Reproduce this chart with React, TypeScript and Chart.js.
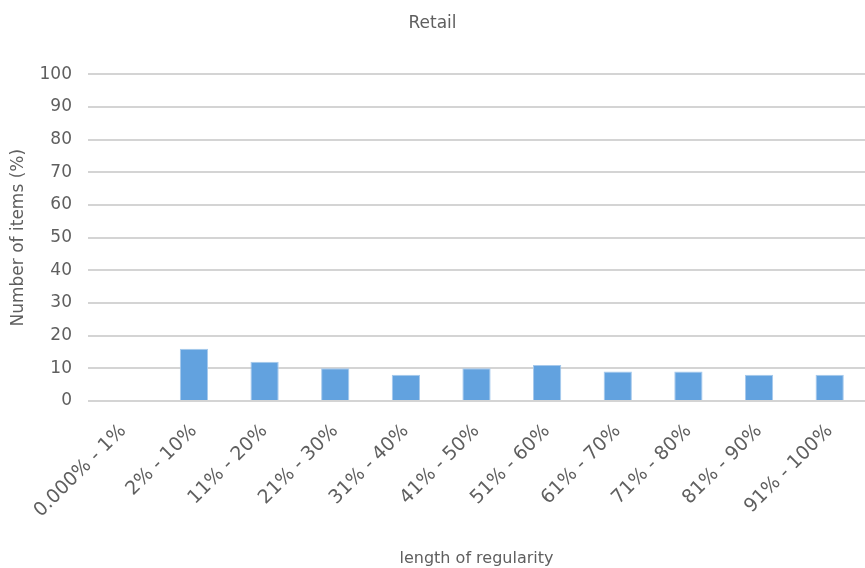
import React, { useEffect, useRef } from "react";
import { Chart, registerables } from "chart.js";

Chart.register(...registerables);

const categories = [
  "0.000% - 1%",
  "2% - 10%",
  "11% - 20%",
  "21% - 30%",
  "31% - 40%",
  "41% - 50%",
  "51% - 60%",
  "61% - 70%",
  "71% - 80%",
  "81% - 90%",
  "91% - 100%",
];
const values = [0.3, 16, 12, 10, 8, 10, 11, 9, 9, 8, 8];
const chartTitle = "Retail";
const xTitle = "length of regularity";
const yTitle = "Number of items (%)";

export default function App() {
  const ref = useRef<HTMLCanvasElement | null>(null);
  useEffect(() => {
    document.body.style.margin = "0";
    const font = "'DejaVu Sans', sans-serif";
    const txt = "#5f5f5f";
    const chart = new Chart(ref.current as HTMLCanvasElement, {
      type: "bar",
      data: {
        labels: categories,
        datasets: [
          {
            data: values,
            backgroundColor: "#62a2df",
            borderColor: "#a6c9ec",
            borderWidth: 1,
            barPercentage: 0.4,
            categoryPercentage: 1,
          },
        ],
      },
      options: {
        animation: false,
        responsive: false,
        layout: { padding: { left: 0, right: 0, top: 0, bottom: 0 } },
        plugins: {
          legend: { display: false },
          tooltip: { enabled: false },
          title: {
            display: true,
            text: chartTitle,
            color: txt,
            font: { family: font, size: 17, weight: "normal" },
            padding: { top: 13, bottom: 41 },
          },
        },
        scales: {
          x: {
            grid: { display: false },
            border: { display: false },
            ticks: {
              color: txt,
              font: { family: font, size: 19 },
              minRotation: 45,
              maxRotation: 45,
              autoSkip: false,
              padding: 11,
            },
            title: {
              display: true,
              text: xTitle,
              color: txt,
              font: { family: font, size: 16 },
              padding: { top: 0, bottom: 0 },
            },
            afterFit: (s: any) => {
              s.height = 167;
            },
          },
          y: {
            min: 0,
            max: 100,
            ticks: {
              stepSize: 10,
              color: txt,
              font: { family: font, size: 17 },
              padding: 16,
            },
            grid: { color: "#d4d4d4", lineWidth: 2, drawTicks: false },
            border: { display: false },
            title: {
              display: true,
              text: yTitle,
              color: txt,
              font: { family: font, size: 17 },
              padding: { top: 8, bottom: 0 },
            },
            afterFit: (s: any) => {
              s.width = 88;
            },
          },
        },
      },
    });
    return () => chart.destroy();
  }, []);
  return (
    <div style={{ position: "absolute", left: 0, top: 0, width: 865, height: 568 }}>
      <canvas ref={ref} width={865} height={568} />
    </div>
  );
}
